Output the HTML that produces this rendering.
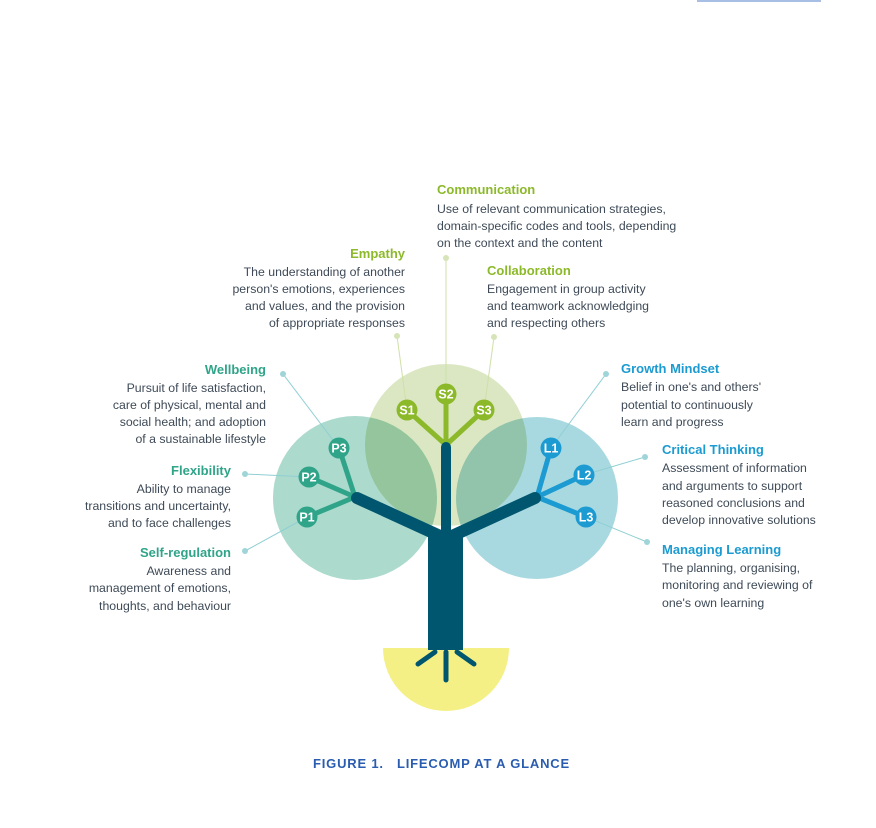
<!DOCTYPE html>
<html><head><meta charset="utf-8"><style>
html,body{margin:0;padding:0;background:#fff;}
svg{display:block;}
text{font-family:"Liberation Sans",sans-serif;}
.b{font-size:12.3px;fill:#3e4a57;}
.hg{font-size:13px;font-weight:bold;fill:#8cb92a;}
.ht{font-size:13px;font-weight:bold;fill:#2fa489;}
.hb{font-size:13px;font-weight:bold;fill:#1b9bd1;}
.n{font-size:12.5px;font-weight:bold;fill:#fff;text-anchor:middle;}
</style></head><body>
<svg width="876" height="828" viewBox="0 0 876 828">
<rect x="697" y="0" width="124" height="2" fill="#3b6fc6" opacity="0.45"/>
<g style="mix-blend-mode:multiply">
<circle cx="355" cy="498" r="82" fill="#acdacd" style="mix-blend-mode:multiply"/>
<circle cx="446" cy="445" r="81" fill="#dbe7c3" style="mix-blend-mode:multiply"/>
<circle cx="537" cy="498" r="81" fill="#a9d9e0" style="mix-blend-mode:multiply"/>
</g>
<path d="M383 648 A63 63 0 0 0 509 648 Z" fill="#f5f085"/>
<g stroke-width="1">
<line x1="283" y1="374" x2="339" y2="448" stroke="#8fcfd3"/>
<line x1="245" y1="474" x2="309" y2="477" stroke="#8fcfd3"/>
<line x1="245" y1="551" x2="307" y2="517" stroke="#8fcfd3"/>
<line x1="397" y1="336" x2="407" y2="410" stroke="#cfe0a8"/>
<line x1="446" y1="258" x2="446" y2="394" stroke="#cfe0a8"/>
<line x1="494" y1="337" x2="484" y2="410" stroke="#cfe0a8"/>
<line x1="606" y1="374" x2="551" y2="448" stroke="#8fcfd3"/>
<line x1="645" y1="457" x2="584" y2="475" stroke="#8fcfd3"/>
<line x1="647" y1="542" x2="586" y2="517" stroke="#8fcfd3"/>
</g>
<g fill="#9fd5d8"><circle cx="283" cy="374" r="3"/><circle cx="245" cy="474" r="3"/><circle cx="245" cy="551" r="3"/><circle cx="606" cy="374" r="3"/><circle cx="645" cy="457" r="3"/><circle cx="647" cy="542" r="3"/></g>
<g fill="#d6e4b8"><circle cx="397" cy="336" r="3"/><circle cx="446" cy="258" r="3"/><circle cx="494" cy="337" r="3"/></g>
<g stroke-linecap="round" stroke-width="5">
<g stroke="#2fa489"><line x1="355" y1="497" x2="339" y2="448"/><line x1="355" y1="497" x2="309" y2="477"/><line x1="355" y1="497" x2="307" y2="517"/></g>
<g stroke="#8cb92a"><line x1="446" y1="445" x2="407" y2="410"/><line x1="446" y1="445" x2="446" y2="394"/><line x1="446" y1="445" x2="484" y2="410"/></g>
<g stroke="#1b9bd1"><line x1="537" y1="497" x2="551" y2="448"/><line x1="537" y1="497" x2="584" y2="475"/><line x1="537" y1="497" x2="586" y2="517"/></g>
</g>
<g stroke="#00566f" stroke-linecap="round">
<line x1="446" y1="447" x2="446" y2="540" stroke-width="10"/>
<line x1="357" y1="498" x2="440" y2="536" stroke-width="12"/>
<line x1="535" y1="498" x2="452" y2="536" stroke-width="12"/>
<line x1="435" y1="652" x2="418" y2="664" stroke-width="5"/>
<line x1="446" y1="652" x2="446" y2="680" stroke-width="5"/>
<line x1="457" y1="652" x2="474" y2="664" stroke-width="5"/>
</g>
<rect x="428" y="530" width="35" height="120" fill="#00566f"/>
<g fill="#2fa489"><circle cx="339" cy="448" r="10.5"/><circle cx="309" cy="477" r="10.5"/><circle cx="307" cy="517" r="10.5"/></g>
<g fill="#8cb92a"><circle cx="407" cy="410" r="10.5"/><circle cx="446" cy="394" r="10.5"/><circle cx="484" cy="410" r="10.5"/></g>
<g fill="#1b9bd1"><circle cx="551" cy="448" r="10.5"/><circle cx="584" cy="475" r="10.5"/><circle cx="586" cy="517" r="10.5"/></g>
<text class="n" x="339" y="452.5">P3</text><text class="n" x="309" y="481.5">P2</text><text class="n" x="307" y="521.5">P1</text>
<text class="n" x="407" y="414.5">S1</text><text class="n" x="446" y="398.5">S2</text><text class="n" x="484" y="414.5">S3</text>
<text class="n" x="551" y="452.5">L1</text><text class="n" x="584" y="479.5">L2</text><text class="n" x="586" y="521.5">L3</text>
<text class="hg" x="437" y="194">Communication</text>
<text class="b" x="437" y="213">Use of relevant communication strategies,</text>
<text class="b" x="437" y="230">domain-specific codes and tools, depending</text>
<text class="b" x="437" y="247">on the context and the content</text>
<g text-anchor="end">
<text class="hg" x="405" y="258">Empathy</text>
<text class="b" x="405" y="276">The understanding of another</text>
<text class="b" x="405" y="293">person's emotions, experiences</text>
<text class="b" x="405" y="310">and values, and the provision</text>
<text class="b" x="405" y="327">of appropriate responses</text>
<text class="ht" x="266" y="374">Wellbeing</text>
<text class="b" x="266" y="392">Pursuit of life satisfaction,</text>
<text class="b" x="266" y="409">care of physical, mental and</text>
<text class="b" x="266" y="426">social health; and adoption</text>
<text class="b" x="266" y="443">of a sustainable lifestyle</text>
<text class="ht" x="231" y="475">Flexibility</text>
<text class="b" x="231" y="493">Ability to manage</text>
<text class="b" x="231" y="510">transitions and uncertainty,</text>
<text class="b" x="231" y="527">and to face challenges</text>
<text class="ht" x="231" y="557">Self-regulation</text>
<text class="b" x="231" y="575">Awareness and</text>
<text class="b" x="231" y="592">management of emotions,</text>
<text class="b" x="231" y="610">thoughts, and behaviour</text>
</g>
<text class="hg" x="487" y="275">Collaboration</text>
<text class="b" x="487" y="293">Engagement in group activity</text>
<text class="b" x="487" y="310">and teamwork acknowledging</text>
<text class="b" x="487" y="327">and respecting others</text>
<text class="hb" x="621" y="373">Growth Mindset</text>
<text class="b" x="621" y="391">Belief in one's and others'</text>
<text class="b" x="621" y="409">potential to continuously</text>
<text class="b" x="621" y="426">learn and progress</text>
<text class="hb" x="662" y="454">Critical Thinking</text>
<text class="b" x="662" y="472">Assessment of information</text>
<text class="b" x="662" y="490">and arguments to support</text>
<text class="b" x="662" y="507">reasoned conclusions and</text>
<text class="b" x="662" y="524">develop innovative solutions</text>
<text class="hb" x="662" y="554">Managing Learning</text>
<text class="b" x="662" y="572">The planning, organising,</text>
<text class="b" x="662" y="589">monitoring and reviewing of</text>
<text class="b" x="662" y="607">one's own learning</text>
<text x="313" y="768" style="font-size:13px;font-weight:bold;fill:#2a5db0;letter-spacing:0.8px" xml:space="preserve">FIGURE 1.   LIFECOMP AT A GLANCE</text>
</svg>
</body></html>
